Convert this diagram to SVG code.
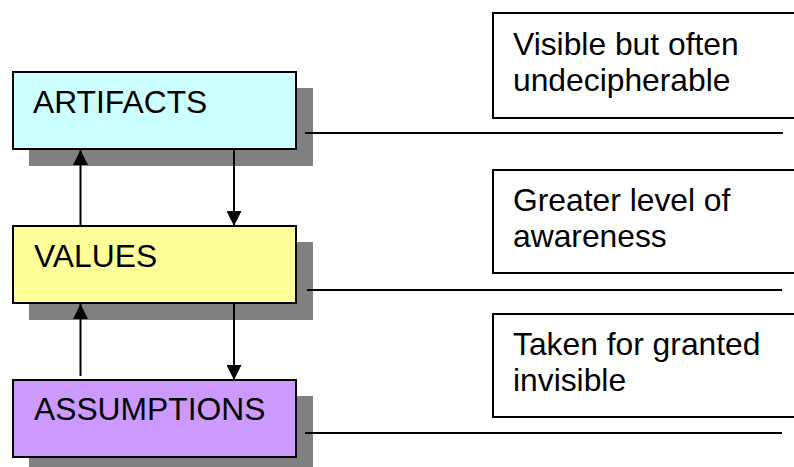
<svg xmlns="http://www.w3.org/2000/svg" width="794" height="467" viewBox="0 0 794 467">
<defs>
<style>
.shadow{fill:#808080;stroke:none}
.box{stroke:#000;stroke-width:2}
.lbl{font-family:"Liberation Sans",Arial,sans-serif;font-size:31.8px;fill:#000}
.note{fill:#fff;stroke:#000;stroke-width:2}
.line{stroke:#000;stroke-width:2;fill:none}
.arr{stroke:#000;stroke-width:2;fill:none;marker-end:url(#ah)}
</style>
<marker id="ah" markerWidth="15" markerHeight="15" refX="15" refY="7.5" orient="auto" markerUnits="userSpaceOnUse" viewBox="0 0 15 15">
<path d="M0,0 L15,7.5 L0,15 Z" fill="#000"/>
</marker>
</defs>
<rect width="794" height="467" fill="#fff"/>
<g id="artifacts">
<rect class="shadow" x="29" y="88" width="284" height="78"/>
<rect class="box" x="13" y="72" width="283" height="77" fill="#CCFFFF"/>
<text class="lbl" x="33" y="113">ARTIFACTS</text>
</g>
<g id="values">
<rect class="shadow" x="29" y="242" width="284" height="78"/>
<rect class="box" x="13" y="226" width="283" height="77" fill="#FFFF99"/>
<text class="lbl" x="34" y="267">VALUES</text>
</g>
<g id="assumptions">
<rect class="shadow" x="29" y="396" width="284" height="78"/>
<rect class="box" x="13" y="380" width="283" height="77" fill="#CC99FF"/>
<text class="lbl" x="34" y="420">ASSUMPTIONS</text>
</g>
<g id="note1">
<rect class="note" x="493" y="13" width="320" height="105"/>
<text class="lbl" x="513" y="55">Visible but often</text>
<text class="lbl" x="513" y="90.5">undecipherable</text>
</g>
<g id="note2">
<rect class="note" x="493" y="170" width="320" height="103"/>
<text class="lbl" x="513" y="211">Greater level of</text>
<text class="lbl" x="513" y="246.5">awareness</text>
</g>
<g id="note3">
<rect class="note" x="493" y="314" width="320" height="103"/>
<text class="lbl" x="513" y="355">Taken for granted</text>
<text class="lbl" x="513" y="390.5">invisible</text>
</g>
<g id="connectors">
<line class="arr" x1="80.5" y1="226" x2="80.5" y2="150"/>
<line class="arr" x1="234" y1="150" x2="234" y2="226"/>
<line class="arr" x1="80.5" y1="376" x2="80.5" y2="304"/>
<line class="arr" x1="234" y1="304" x2="234" y2="380"/>
<line class="line" x1="305" y1="133" x2="783" y2="133"/>
<line class="line" x1="307" y1="290" x2="782" y2="290"/>
<line class="line" x1="305" y1="433" x2="782" y2="433"/>
</g>
</svg>
